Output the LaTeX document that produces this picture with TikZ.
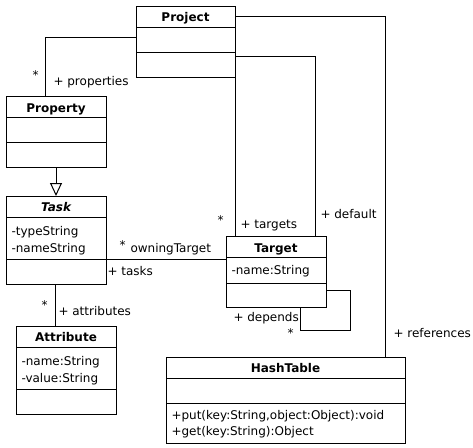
\documentclass[tikz,border=0pt]{standalone}
\usepackage{fontspec}
\setmainfont{DejaVu Sans}
\usetikzlibrary{arrows.meta}
\begin{document}
\begin{tikzpicture}[x=1pt,y=-1pt,line width=1pt,
  box/.style={draw,anchor=north west,inner sep=0pt,outer sep=0pt},
  ttl/.style={font=\fontsize{12}{13}\selectfont\bfseries,inner sep=0pt,anchor=base},
  txt/.style={font=\fontsize{12}{13}\selectfont,inner sep=0pt,anchor=base west},
  gen/.style={-{Triangle[open,width=12pt,length=13pt]}}]
\useasboundingbox (0,0) rectangle (473,447);
% classes
\node[box,minimum width=99pt,minimum height=71pt] (project) at (136,6) {};
\draw (136,27) -- (235,27) (136,52) -- (235,52);
\node[ttl] (projectt) at (185.5,21) {Project};

\node[box,minimum width=100pt,minimum height=71pt] (property) at (6,96) {};
\draw (6,117) -- (106,117) (6,142) -- (106,142);
\node[ttl] (propertyt) at (56,112) {Property};

\node[box,minimum width=100pt,minimum height=88pt] (task) at (6,196) {};
\draw (6,217) -- (106,217) (6,259) -- (106,259);
\node[ttl,font=\fontsize{12}{13}\selectfont\bfseries\itshape] (taskt) at (56,211) {Task};
\node[txt] (taska1) at (11,235) {-typeString};
\node[txt] (taska2) at (11,252) {-nameString};

\node[box,minimum width=100pt,minimum height=88pt] (attribute) at (16,326) {};
\draw (16,347) -- (116,347) (16,389) -- (116,389);
\node[ttl] (attributet) at (66,341.5) {Attribute};
\node[txt] (attra1) at (21,365.5) {-name:String};
\node[txt] (attra2) at (21,382) {-value:String};

\node[box,minimum width=100pt,minimum height=71pt] (target) at (226,236) {};
\draw (226,257) -- (326,257) (226,283) -- (326,283);
\node[ttl] (targett) at (276,252) {Target};
\node[txt] (targeta1) at (231,274.5) {-name:String};

\node[box,minimum width=239pt,minimum height=86pt] (hash) at (166,357) {};
\draw (166,378) -- (405,378) (166,403) -- (405,403);
\node[ttl] (hasht) at (285.5,372) {HashTable};
\node[txt] (hashm1) at (171,419) {+put(key:String,object:Object):void};
\node[txt] (hashm2) at (171,435) {+get(key:String):Object};

% connectors
\draw ([yshift=-31pt]project.north west) -| ([xshift=39pt]property.north west);
\draw[gen] (property.south) -- (task.north);
\draw (project.south east) -- (project.south east |- target.north);
\draw ([yshift=-50pt]project.north east) -| ([xshift=89pt]target.north west);
\draw ([yshift=-10pt]project.north east) -| ([xshift=219pt]hash.north west);
\draw ([yshift=-63pt]task.north east) -- ([yshift=-23pt]target.north west);
\draw ([xshift=-1pt]task.south) -- ([xshift=-1pt]task.south |- attribute.north);
\draw ([yshift=-54pt]target.north east) -| ([xshift=24pt,yshift=-23pt]target.south east) -| ([xshift=74pt]target.south west);

% labels
\node[txt] (l1) at (32,79) {*};
\node[txt] (l2) at (53,85) {+ properties};
\node[txt] (l3) at (119,249) {*};
\node[txt] (l4) at (130,252) {owningTarget};
\node[txt] (l5) at (107,275) {+ tasks};
\node[txt] (l6) at (41,309) {*};
\node[txt] (l7) at (58,315) {+ attributes};
\node[txt] (l8) at (217,224) {*};
\node[txt] (l9) at (240,228) {+ targets};
\node[txt] (l10) at (320,218) {+ default};
\node[txt] (l11) at (233,321) {+ depends};
\node[txt] (l12) at (287,337) {*};
\node[txt] (l13) at (393,337) {+ references};
\end{tikzpicture}
\end{document}
